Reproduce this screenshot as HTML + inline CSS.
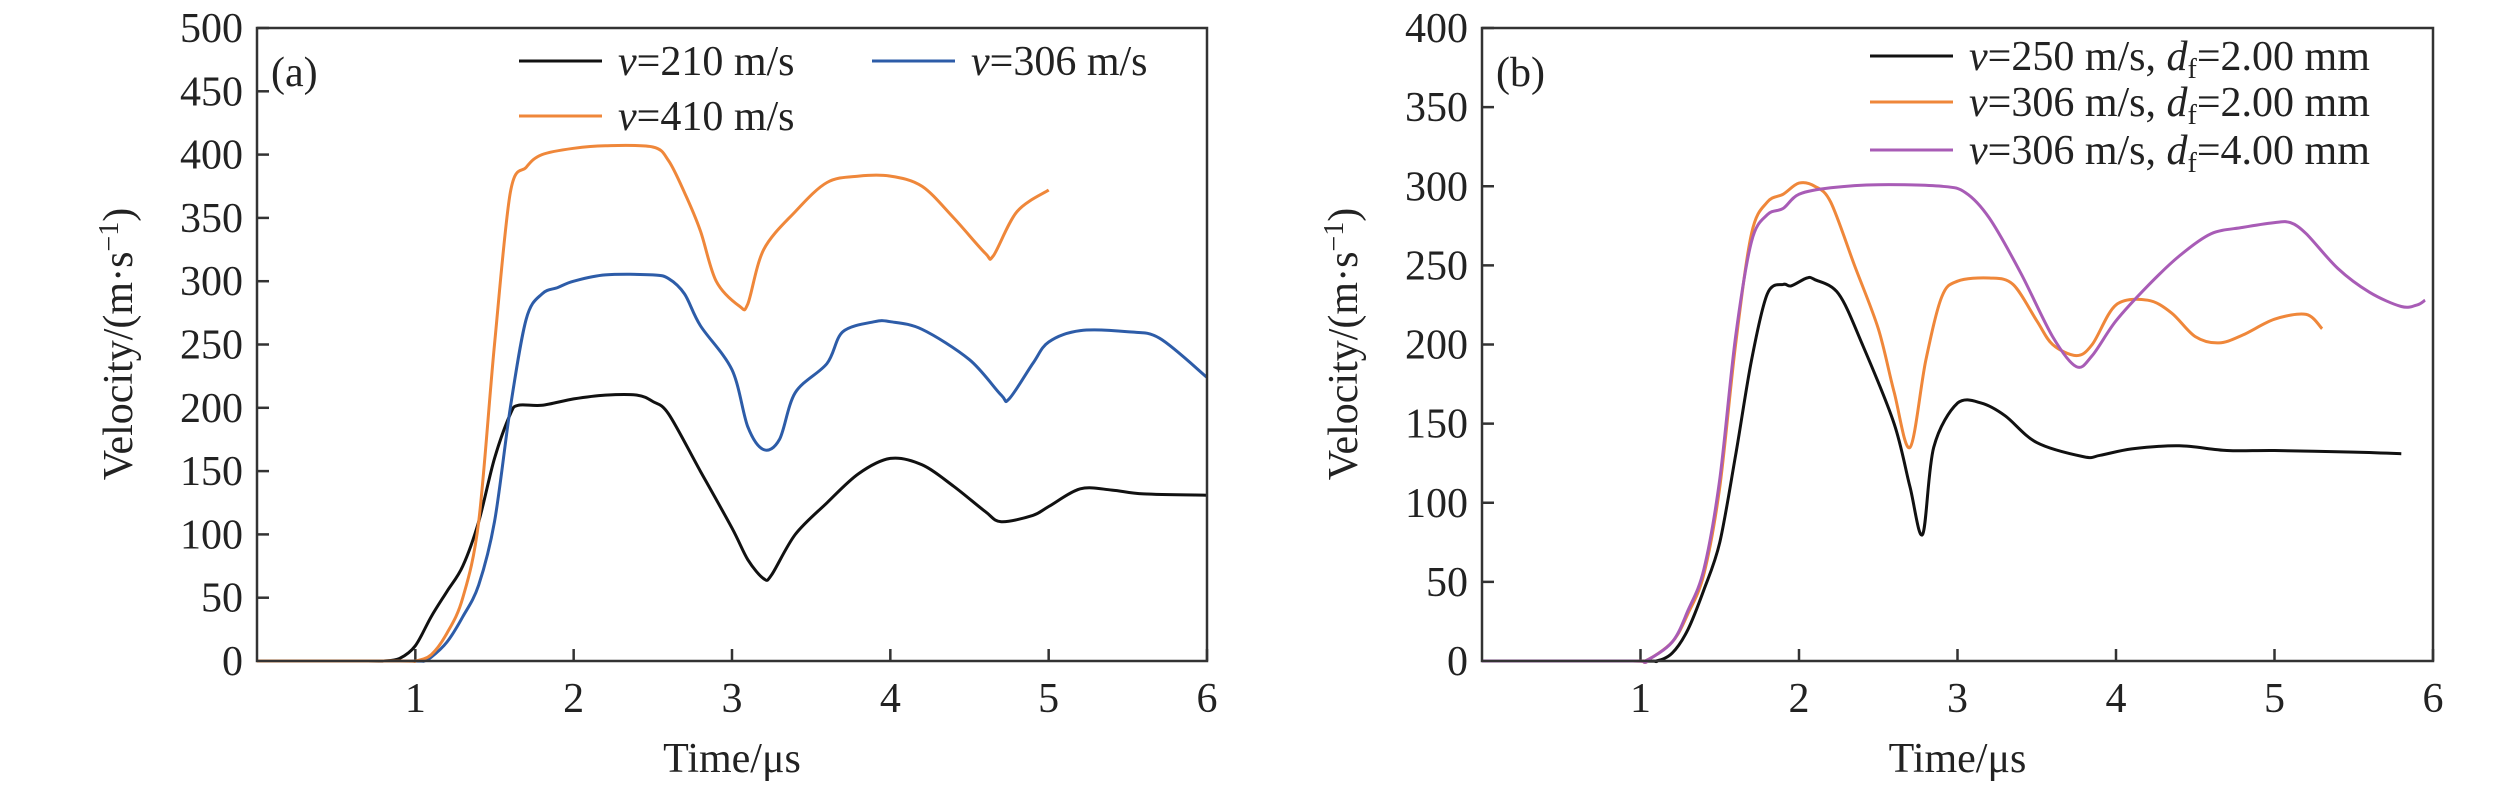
<!DOCTYPE html>
<html><head><meta charset="utf-8"><style>
body{margin:0;background:#fff;}
svg{display:block;font-family:"Liberation Serif",serif;}
</style></head><body>
<svg id="chart" width="2520" height="787" viewBox="0 0 2520 787"></svg>
<script>
const xTicks=[1,2,3,4,5,6];
const yTicksA=[0,50,100,150,200,250,300,350,400,450,500];
const yTicksB=[0,50,100,150,200,250,300,350,400];
const tA210=[0,0.7,0.8,0.9,1.0,1.1,1.2,1.3,1.4,1.5,1.6,1.65,1.8,2.0,2.2,2.4,2.5,2.6,2.8,3.0,3.1,3.2,3.25,3.4,3.6,3.8,4.0,4.2,4.4,4.6,4.7,4.9,5.0,5.2,5.4,5.6,6.0];
const vA210=[0,0,0,2,12,35,55,75,110,160,195,202,202,207,210,210,205,195,150,105,80,65,68,100,125,148,160,155,138,118,110,115,122,136,135,132,131];
const tA306=[0,0.95,1.05,1.1,1.2,1.3,1.4,1.5,1.6,1.7,1.8,1.9,2.0,2.2,2.5,2.6,2.7,2.8,3.0,3.1,3.2,3.3,3.4,3.6,3.7,3.9,4.0,4.2,4.5,4.7,4.75,4.9,5.0,5.2,5.5,5.7,6.0];
const vA306=[0,0,0,3,15,35,60,110,200,270,290,295,300,305,305,302,290,265,230,185,167,175,212,235,260,268,268,262,238,210,207,235,252,261,260,255,224];
const tA410=[0,0.9,1.0,1.1,1.2,1.3,1.4,1.5,1.6,1.7,1.8,2.0,2.2,2.5,2.6,2.7,2.8,2.9,3.05,3.1,3.2,3.4,3.6,3.8,4.0,4.2,4.4,4.6,4.65,4.8,5.0];
const vA410=[0,0,0,5,22,50,110,250,370,390,400,405,407,406,395,370,340,300,280,282,325,355,378,383,383,375,350,322,320,355,372];
const tB1=[0,1.0,1.1,1.2,1.3,1.4,1.5,1.6,1.7,1.8,1.9,1.95,2.05,2.1,2.25,2.4,2.6,2.7,2.78,2.85,3.0,3.15,3.3,3.5,3.8,3.9,4.1,4.4,4.7,5.0,5.5,5.8];
const vB1=[0,0,0,5,20,45,75,130,190,232,238,237,242,241,232,200,150,110,80,135,163,163,155,138,129,130,134,136,133,133,132,131];
const tB2=[0,0.95,1.03,1.2,1.3,1.4,1.5,1.6,1.7,1.8,1.9,2.0,2.1,2.2,2.35,2.5,2.6,2.7,2.8,2.9,3.0,3.2,3.35,3.5,3.6,3.75,3.85,4.0,4.2,4.35,4.5,4.65,4.8,5.0,5.2,5.3];
const vB2=[0,0,0,12,30,55,110,200,270,290,295,302,300,290,250,210,170,135,190,230,240,242,238,215,200,193,200,225,228,220,205,201,206,216,219,210];
const tB3=[0,0.95,1.03,1.2,1.3,1.4,1.5,1.6,1.7,1.8,1.9,2.0,2.2,2.5,2.9,3.05,3.2,3.4,3.6,3.75,3.85,4.0,4.2,4.4,4.6,4.8,5.0,5.1,5.2,5.4,5.6,5.8,5.9,5.95];
const vB3=[0,0,0,12,32,58,115,205,265,282,286,295,299,301,300,296,280,245,205,186,193,215,237,256,270,274,277,277,270,248,233,224,225,228];

const NS="http://www.w3.org/2000/svg";
const svg=document.getElementById('chart');
function mk(tag,attrs,parent){const e=document.createElementNS(NS,tag);for(const k in attrs)e.setAttribute(k,attrs[k]);(parent||svg).appendChild(e);return e;}
function smooth(P){
  let d='M'+P[0][0].toFixed(1)+','+P[0][1].toFixed(1);
  for(let i=0;i<P.length-1;i++){
    const p0=P[i-1]||P[i],p1=P[i],p2=P[i+1],p3=P[i+2]||P[i+1];
    const k=0.16;
    const c1=[p1[0]+(p2[0]-p0[0])*k,p1[1]+(p2[1]-p0[1])*k];
    const c2=[p2[0]-(p3[0]-p1[0])*k,p2[1]-(p3[1]-p1[1])*k];
    const lo=Math.min(p1[1],p2[1]),hi=Math.max(p1[1],p2[1]);
    const cl=y=>Math.max(lo-6,Math.min(hi+6,y));
    c1[1]=cl(c1[1]);c2[1]=cl(c2[1]);
    d+=' C'+c1.map(n=>n.toFixed(1))+' '+c2.map(n=>n.toFixed(1))+' '+p2.map(n=>n.toFixed(1));
  }
  return d;
}
const FS=42;
function panel(p){
  const g=mk('g',{});
  
  
  const X=t=>p.left+(p.right-p.left)*t/6;
  const Y=v=>p.bottom-(p.bottom-p.top)*v/p.ymax;
  xTicks.forEach(t=>{
    const l=mk('line',{x1:X(t),x2:X(t),y1:p.bottom,y2:p.bottom-12,stroke:'#333','stroke-width':2.5},g);
    
    
    const tx=mk('text',{x:X(t),y:712,'font-size':FS,'text-anchor':'middle',fill:'#222'},g);
    tx.textContent=t;
    
    
  });
  p.yticks.forEach(v=>{
    const l=mk('line',{x1:p.left,x2:p.left+12,y1:Y(v),y2:Y(v),stroke:'#333','stroke-width':2.5},g);
    
    
    const tx=mk('text',{x:p.left-14,y:Y(v)+14,'font-size':FS,'text-anchor':'end',fill:'#222'},g);
    tx.textContent=v;
    
    
  });
  p.series.forEach(s=>{
    const P=s.t.map((t,i)=>[X(t),Y(s.v[i])]);
    const pl=mk('path',{d:smooth(P),fill:'none',stroke:s.color,'stroke-width':3,'stroke-linejoin':'round'},g);
    
    
  });
  const fr=mk('rect',{x:p.left,y:p.top,width:p.right-p.left,height:p.bottom-p.top,fill:'none',stroke:'#333','stroke-width':2.5},g);
  
  
  const xt=mk('text',{x:(p.left+p.right)/2,y:772,'font-size':FS,'text-anchor':'middle',fill:'#222'},g);
  xt.textContent='Time/μs';
  
  
  const yt=mk('text',{x:0,y:0,'font-size':FS,'text-anchor':'middle',fill:'#222',transform:`translate(${p.ytx},344) rotate(-90)`},g);
  yt.innerHTML='Velocity/(m·s<tspan dy="-14" font-size="28">−1</tspan><tspan dy="14">)</tspan>';
  
  
  const pl=mk('text',{x:p.left+14,y:86,'font-size':FS,fill:'#222'},g);
  pl.textContent=p.label;
  
  
  p.legend.forEach(e=>{
    const lg=mk('g',{},g);
    
    
    mk('line',{x1:e.x,x2:e.x+83,y1:e.y,y2:e.y,stroke:e.color,'stroke-width':3},lg);
    const tx=mk('text',{x:e.x+99,y:e.y+14,'font-size':FS,fill:'#222'},lg);
    tx.innerHTML=e.html;
  });
}
panel({name:'panel-a',left:257,right:1207,top:28,bottom:661,ymax:500,yticks:yTicksA,label:'(a)',ytx:132,
  series:[{t:tA210,v:vA210,color:'#111',name:'line-v210'},{t:tA306,v:vA306,color:'#2d5ca8',name:'line-v306'},{t:tA410,v:vA410,color:'#ef873a',name:'line-v410'}],
  legend:[{x:519,y:61,color:'#111',html:'<tspan font-style="italic">v</tspan>=210 m/s'},
          {x:872,y:61,color:'#2d5ca8',html:'<tspan font-style="italic">v</tspan>=306 m/s'},
          {x:519,y:116,color:'#ef873a',html:'<tspan font-style="italic">v</tspan>=410 m/s'}]});
const sub=n=>'<tspan font-style="italic">v</tspan>='+n[0]+' m/s, <tspan font-style="italic">d</tspan><tspan font-size="28" dy="8">f</tspan><tspan dy="-8">='+n[1]+' mm</tspan>';
panel({name:'panel-b',left:1482,right:2433,top:28,bottom:661,ymax:400,yticks:yTicksB,label:'(b)',ytx:1357,
  series:[{t:tB1,v:vB1,color:'#111',name:'line-v250-d2'},{t:tB2,v:vB2,color:'#ef873a',name:'line-v306-d2'},{t:tB3,v:vB3,color:'#a85cb6',name:'line-v306-d4'}],
  legend:[{x:1870,y:56,color:'#111',html:sub(['250','2.00'])},
          {x:1870,y:102,color:'#ef873a',html:sub(['306','2.00'])},
          {x:1870,y:150,color:'#a85cb6',html:sub(['306','4.00'])}]});
</script>
</body></html>
